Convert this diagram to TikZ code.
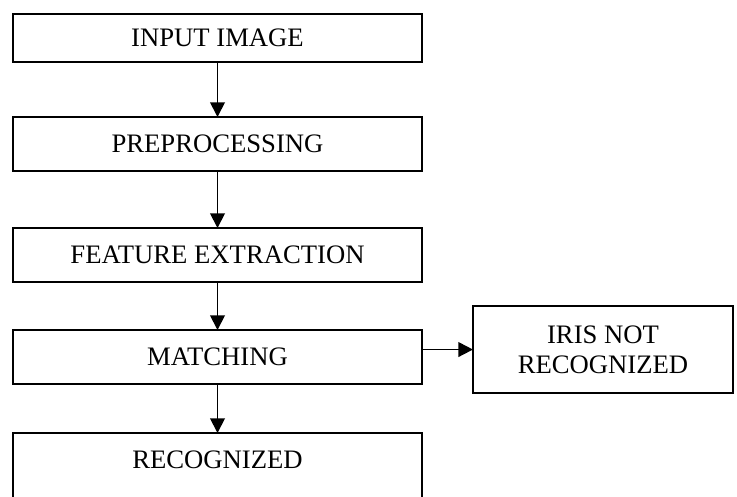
\documentclass[tikz,border=0pt]{standalone}
\usepackage{fontspec}
\setmainfont{Liberation Serif}
\usetikzlibrary{arrows.meta, positioning}

\begin{document}
\begin{tikzpicture}[
    x=0.75pt, y=-0.75pt,
    stage/.style={rectangle, draw, line width=1.4pt, minimum width=306.75pt, minimum height=40.5pt, inner sep=0pt, outer sep=0pt, font=\fontsize{20}{22.5}\selectfont, align=center},
    arrow/.style={-{Triangle[width=11pt,length=11pt]}, line width=1.4pt}
]
\useasboundingbox (0,0) rectangle (737,496);

\node[stage, minimum height=36pt, anchor=north west] (input) at (13,14) {INPUT IMAGE};
\node[stage, below=41.25pt of input]  (pre)   {PREPROCESSING};
\node[stage, below=42.75pt of pre]    (feat)  {FEATURE EXTRACTION};
\node[stage, below=36pt of feat]      (match) {MATCHING};
\node[stage, below=36.75pt of match, minimum height=63pt] (recog) {RECOGNIZED\\~};
\node[stage, right=38.25pt of match, yshift=5.6pt, minimum width=195pt, minimum height=65.25pt] (iris) {IRIS NOT\\RECOGNIZED};

\draw[arrow] (input) -- (pre);
\draw[arrow] (pre)   -- (feat);
\draw[arrow] (feat)  -- (match);
\draw[arrow] (match) -- (recog);
\draw[arrow] (match.east |- iris.west) -- (iris.west);

\end{tikzpicture}
\end{document}
